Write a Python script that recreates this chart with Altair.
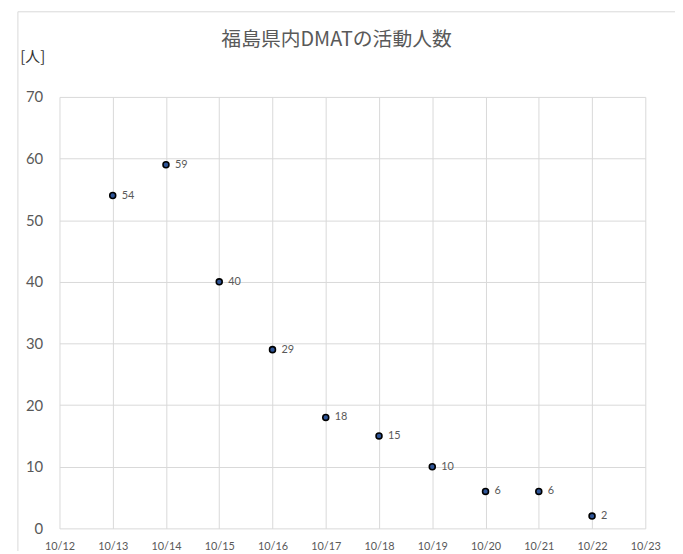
import altair as alt
import pandas as pd

days = [13, 14, 15, 16, 17, 18, 19, 20, 21, 22]
people = [54, 59, 40, 29, 18, 15, 10, 6, 6, 2]
x_ticks = [12, 13, 14, 15, 16, 17, 18, 19, 20, 21, 22, 23]
y_ticks = [0, 10, 20, 30, 40, 50, 60, 70]
title_text = "福島県内DMATの活動人数"
unit_text = "[人]"

df = pd.DataFrame({"day": days, "people": people})

W, H = 592, 436
gray = "#595959"

x = alt.X("day:Q", scale=alt.Scale(domain=[12, 23], nice=False),
          axis=alt.Axis(values=x_ticks, labelExpr="'10/' + datum.value", title=None,
                        grid=True, gridColor="#d9d9d9", domain=False, ticks=False,
                        labelFlush=False, labelOverlap=False, labelBound=False,
                        labelFont="Lato", labelFontSize=11, labelColor=gray, labelPadding=12))
y = alt.Y("people:Q", scale=alt.Scale(domain=[0, 70], nice=False),
          axis=alt.Axis(values=y_ticks, title=None, grid=True, gridColor="#d9d9d9",
                        domain=False, ticks=False, labelFont="Lato", labelFontSize=15,
                        labelAlign="right", labelFlush=False, labelOverlap=False,
                        labelColor=gray, labelPadding=17))

base = alt.Chart(df)

frame = alt.Chart(pd.DataFrame({"a": [0]})).mark_rect(
    fill=None, stroke="#d9d9d9", strokeWidth=1
).encode(x=alt.value(-42), x2=alt.value(W + 40), y=alt.value(-86), y2=alt.value(H + 40))

points = base.mark_point(filled=True, shape="circle", size=36, fill="#2f5597",
                         stroke="black", strokeWidth=1.6, opacity=1).encode(x=x, y=y)
labels = base.mark_text(align="left", baseline="middle", dx=9, font="Lato",
                        fontSize=11, color=gray).encode(x="day:Q", y="people:Q",
                                                        text="people:Q")
title = alt.Chart(pd.DataFrame({"t": [title_text]})).mark_text(
    font="Noto Sans CJK JP", fontSize=20, color=gray, baseline="middle", align="center"
).encode(x=alt.value(280), y=alt.value(-57), text="t:N")
unit = alt.Chart(pd.DataFrame({"t": [unit_text]})).mark_text(
    font="Noto Sans CJK JP", fontSize=15, color="#333333", baseline="middle", align="center"
).encode(x=alt.value(-27), y=alt.value(-40), text="t:N")

chart = alt.layer(frame, points, labels, title, unit).properties(
    width=W, height=H, autosize=alt.AutoSizeParams(type="none"),
    padding={"left": 52, "top": 87, "right": 30, "bottom": 20}
).configure_view(stroke=None)

chart.save("out.html", embed_options={"renderer": "svg", "actions": False})
